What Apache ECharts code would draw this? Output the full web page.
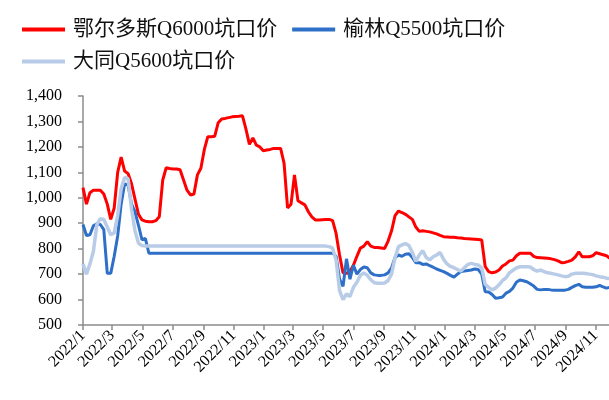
<!DOCTYPE html>
<html><head><meta charset="utf-8">
<script src="https://cdn.jsdelivr.net/npm/echarts@6/dist/echarts.min.js"></script>
<style>html,body{margin:0;padding:0;background:#fff}#c{width:609px;height:400px}</style>
</head><body><div id="c"></div><script>
const seriesNames = ['鄂尔多斯Q6000坑口价', '榆林Q5500坑口价', '大同Q5600坑口价'];
const startDate = '2022-01-01';   // first weekly observation
const weekCount = 153;            // weekly observations
const tickLabels = ['2022/1','2022/3','2022/5','2022/7','2022/9','2022/11',
  '2023/1','2023/3','2023/5','2023/7','2023/9','2023/11',
  '2024/1','2024/3','2024/5','2024/7','2024/9','2024/11'];

const ordos = [
  1040,975,1020,1030,1030,1030,1015,975,915,960,
  1100,1160,1105,1095,1055,995,935,913,908,906,
  906,910,925,1070,1118,1115,1113,1113,1110,1070,
  1030,1011,1015,1090,1116,1190,1240,1240,1242,1295,
  1310,1312,1315,1318,1319,1320,1322,1270,1210,1235,
  1207,1200,1185,1188,1190,1194,1194,1194,1135,960,
  975,1090,988,980,972,945,925,913,913,914,
  915,915,910,860,775,705,703,710,735,770,
  802,810,828,810,805,805,803,801,830,870,
  930,948,942,935,925,915,885,868,870,868,
  866,862,858,852,847,846,845,845,843,842,
  840,839,838,837,836,834,730,710,705,708,
  716,732,740,752,755,772,782,782,782,782,
  770,765,764,763,762,760,757,752,745,746,
  750,755,768,788,768,768,768,772,784,780,
  776,772,762
];
const yulin = [
  895,852,855,890,898,895,875,703,703,770,
  850,975,1055,1050,975,945,892,835,840,782,
  782,782,782,782,782,782,782,782,782,782,
  782,782,782,782,782,782,782,782,782,782,
  782,782,782,782,782,782,782,782,782,782,
  782,782,782,782,782,782,782,782,782,782,
  782,782,782,782,782,782,782,782,782,782,
  782,782,782,770,680,652,760,680,735,700,
  718,728,725,705,697,695,695,697,705,725,
  765,775,770,778,780,765,745,745,738,740,
  733,727,720,715,710,703,695,688,700,710,
  712,714,716,720,718,700,631,630,620,605,
  607,610,625,632,645,668,677,674,670,662,
  653,640,638,640,640,638,637,637,637,637,
  640,648,655,660,650,648,648,648,650,656,
  650,645,648
];
const datong = [
  740,700,740,790,895,918,915,885,855,862,
  930,1035,1080,1075,955,870,822,812,810,810,
  810,810,810,810,810,810,810,810,810,810,
  810,810,810,810,810,810,810,810,810,810,
  810,810,810,810,810,810,810,810,810,810,
  810,810,810,810,810,810,810,810,810,810,
  810,810,810,810,810,810,810,810,810,810,
  810,808,802,755,635,600,622,612,648,668,
  695,705,695,678,666,664,664,665,675,700,
  765,808,815,820,812,785,750,775,792,765,
  756,768,775,785,758,740,730,725,718,712,
  725,738,742,738,736,725,660,648,638,645,
  658,675,685,705,715,724,729,729,729,728,
  718,712,716,710,705,703,700,697,693,690,
  692,700,703,703,703,702,700,698,693,690,
  688,684,682
];

const DAY = 86400000;
function parseYMD(s) { const p = s.split(/[-\/]/).map(Number); return Date.UTC(p[0], p[1] - 1, p[2] || 1); }
const origin = parseYMD(startDate);
function dayOf(s) { return (parseYMD(s) - origin) / DAY; }
const dates = [];
for (let i = 0; i < weekCount; i++) {
  const d = new Date(origin + i * 7 * DAY);
  dates.push(d.getUTCFullYear() + '-' + String(d.getUTCMonth() + 1).padStart(2, '0') + '-' + String(d.getUTCDate()).padStart(2, '0'));
}
const xDays = dates.map(dayOf);
const tickDays = tickLabels.map(t => dayOf(t + '/1'));
const labelByDay = {};
tickDays.forEach((d, i) => { labelByDay[d] = tickLabels[i]; });

const serif = "'Liberation Serif', 'Times New Roman', 'Noto Sans CJK SC', serif";
const axisColor = '#8c8c8c';
const colors = ['#FF0000', '#2E6FC7', '#B8CCE8'];
const values = [ordos, yulin, datong];

const chart = echarts.init(document.getElementById('c'), null, { renderer: 'canvas' });
const legendText = { fontFamily: serif, fontSize: 21, color: '#111', padding: [0, 0, 0, 3] };
chart.setOption({
  animation: false,
  backgroundColor: '#ffffff',
  color: colors,
  legend: [
    { data: [seriesNames[0], seriesNames[1]], left: 22, top: 19, padding: 0, icon: 'rect',
      itemWidth: 43, itemHeight: 4, itemGap: 15, textStyle: legendText },
    { data: [seriesNames[2]], left: 22, top: 51, padding: 0, icon: 'rect',
      itemWidth: 43, itemHeight: 4, textStyle: legendText }
  ],
  grid: { left: 83, right: 0, top: 96, bottom: 75 },
  xAxis: {
    type: 'value', min: 0, max: 1062,
    axisLine: { show: true, lineStyle: { color: axisColor, width: 1.5 } },
    axisTick: { show: true, customValues: tickDays, length: 5, lineStyle: { color: axisColor, width: 1.5 } },
    axisLabel: { customValues: tickDays, formatter: v => labelByDay[v] || '', rotate: 45, margin: 8,
      fontFamily: serif, fontSize: 16, color: '#000' },
    splitLine: { show: false }
  },
  yAxis: {
    type: 'value', min: 500, max: 1400, interval: 100,
    axisLine: { show: true, lineStyle: { color: axisColor, width: 1.5 } },
    axisTick: { show: true, length: 5, lineStyle: { color: axisColor, width: 1.5 } },
    axisLabel: { margin: 21, fontFamily: serif, fontSize: 16, color: '#000',
      formatter: v => v >= 1000 ? Math.floor(v / 1000) + ',' + String(v % 1000).padStart(3, '0') : String(v) },
    splitLine: { show: false }
  },
  series: seriesNames.map((name, k) => ({
    name, type: 'line', showSymbol: false, symbol: 'none',
    lineStyle: { width: k === 2 ? 3.5 : 3, color: colors[k] },
    itemStyle: { color: colors[k] },
    data: xDays.map((x, i) => [x, values[k][i]])
  }))
});
</script></body></html>
